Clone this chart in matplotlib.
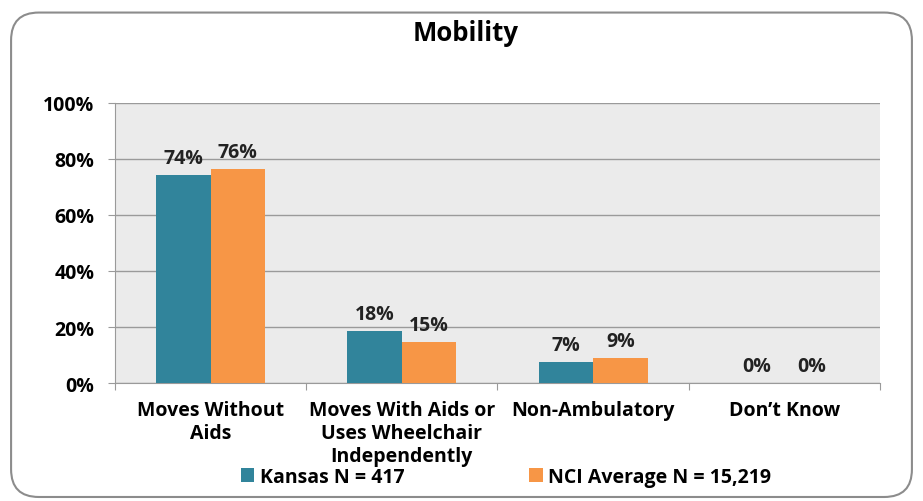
import matplotlib
matplotlib.use("Agg")
import matplotlib.pyplot as plt
from matplotlib.patches import FancyBboxPatch
import numpy as np

categories = ["Moves Without\nAids", "Moves With Aids or\nUses Wheelchair\nIndependently", "Non-Ambulatory", "Don\u2019t Know"]
kansas = [74, 18, 7, 0]
nci = [76, 15, 9, 0]
kansas_heights = [74.3, 18.6, 7.5, 0]
nci_heights = [76.4, 14.6, 8.9, 0]
series_names = ["Kansas N = 417", "NCI Average N = 15,219"]
yticks = [0, 20, 40, 60, 80, 100]

plt.rcParams['font.family'] = ['Open Sans', 'DejaVu Sans']
plt.rcParams['font.weight'] = 'bold'
FS = 14

fig = plt.figure(figsize=(9.23, 5.02), dpi=100)
fig.patch.set_facecolor('white')
border = FancyBboxPatch((0.012, 0.008), 0.976, 0.965, boxstyle="round,pad=0,rounding_size=0.03",
                        transform=fig.transFigure, facecolor='none', edgecolor='#8c8c8c', linewidth=1.5,
                        mutation_aspect=923/502, zorder=-1)
fig.patches.append(border)

ax = fig.add_axes([0.1246, 0.235, 0.8288, 0.558])
ax.set_facecolor('#EBEBEB')
x = np.arange(len(categories))
w = 0.285
b1 = ax.bar(x - w/2, kansas_heights, w, color='#31849B', label=series_names[0], zorder=3)
b2 = ax.bar(x + w/2, nci_heights, w, color='#F79646', label=series_names[1], zorder=3)
for rects, vals in ((b1, kansas), (b2, nci)):
    for r, v in zip(rects, vals):
        ax.text(r.get_x() + r.get_width()/2, r.get_height() + 2.5, f"{v}%", ha='center', va='bottom',
                fontsize=FS, fontweight='bold', color='#222222')

ax.set_xlim(-0.5, len(categories) - 0.5)
ax.set_ylim(0, 100)
ax.set_yticks(yticks)
ax.set_yticklabels([f"{t}%" for t in yticks], fontsize=FS, fontweight='bold')
ax.yaxis.grid(True, color='#9a9a9a', linewidth=1.0, zorder=0)
ax.set_axisbelow(True)
ax.set_xticks(np.arange(len(categories) + 1) - 0.5)
ax.set_xticklabels([])
ax.set_xticks(x, minor=True)
ax.set_xticklabels(categories, minor=True, fontsize=FS, fontweight='bold', linespacing=1.22)
ax.tick_params(axis='x', which='minor', length=0, pad=12)
ax.tick_params(axis='x', which='major', length=5, color='#9a9a9a', direction='out')
ax.tick_params(axis='y', length=5, color='#9a9a9a', direction='out', pad=10)
for s in ['top', 'right']:
    ax.spines[s].set_visible(False)
for s in ['left', 'bottom']:
    ax.spines[s].set_color('#9a9a9a')

fig.text(0.505, 0.933, "Mobility", ha='center', va='center', fontsize=18.5, fontweight='bold')
fig.legend(handles=[b1, b2], labels=series_names, loc='center left', bbox_to_anchor=(223/923, 0.048), ncol=2,
           frameon=False, handlelength=0.7, handleheight=0.7, handletextpad=0.3,
           columnspacing=6.4, prop={'weight': 'bold', 'size': FS})

fig.savefig("out.png", dpi=100)
